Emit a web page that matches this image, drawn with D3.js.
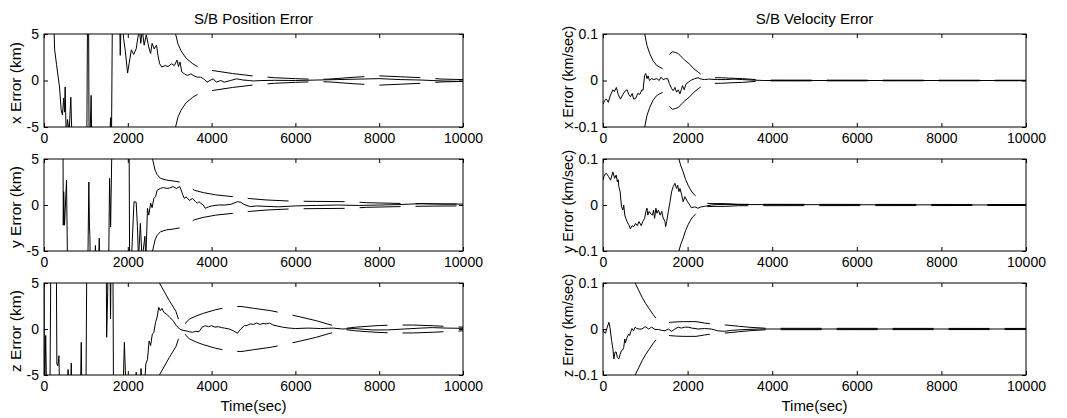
<!DOCTYPE html>
<html>
<head>
<meta charset="utf-8">
<script src="https://cdn.jsdelivr.net/npm/d3@7"></script>
<style>
  body { margin: 0; background: #fff; }
  svg text { font-family: "Liberation Sans", Arial, Helvetica, sans-serif; fill: #000; }
</style>
</head>
<body>
<svg id="chart" width="1067" height="418"></svg>
<script>
// ---- axis ticks and labels ----
const timeTicks = [0, 2000, 4000, 6000, 8000, 10000];
const posTicks = [-5, 0, 5];
const velTicks = [-0.1, 0, 0.1];
const columnTitles = ["S/B Position Error", "S/B Velocity Error"];
const posLabels = ["x Error (km)", "y Error (km)", "z Error (km)"];
const velLabels = ["x Error (km/sec)", "y Error (km/sec)", "z Error (km/sec)"];
const timeLabel = "Time(sec)";

// ---- position errors [time s, error km] ----
const xPosErr = [[0,25],[235,6],[254,3.3],[300,1.7],[370,-0.7],[410,-3.2],[440,-3.7],[470,-1.9],[490,-3.4],[505,-0.7],[530,-6],[560,-4.2],[600,-5.5],[640,-1.8],[665,-6],[700,-9],[1020,-8],[1045,12],[1060,12],[1075,-6],[1100,-6],[1125,-1.6],[1140,-7],[1560,-7],[1590,-4],[1610,-7],[1640,12],[1780,9],[1810,5.5],[1820,2.7],[1835,5.5],[1860,7],[1900,4.5],[1940,3.2],[1995,0.8],[2030,1.8],[2085,3.3],[2140,2.8],[2200,3.4],[2240,4.6],[2275,5.5],[2310,4.0],[2345,5.5],[2390,3.8],[2440,4.9],[2500,3.6],[2545,2.9],[2580,4.0],[2630,3.4],[2685,3.8],[2720,2.7],[2760,1.8],[2810,1.45],[2890,1.6],[2960,1.5],[3045,1.8],[3110,1.6],[3175,2.2],[3210,1.5],[3245,2.0],[3290,0.9],[3350,0.72],[3420,0.54],[3500,0.72],[3580,0.5],[3660,0.36],[3740,0.36],[3810,0.18],[3890,-0.18],[3960,0.0],[4040,0.18],[4110,-0.18],[4220,0.0],[4300,-0.18],[4450,0.0],[4600,0.18],[4750,0.05],[4900,0.0],[5000,-0.05],[5200,0.0],[5500,0.02],[6000,0.0],[6500,0.05],[7000,0.1],[7500,0.15],[8000,0.2],[8500,0.1],[9000,0.05],[9500,-0.05],[10000,-0.1]];
const yPosErr = [[0,15],[450,12],[460,-2.2],[470,1.45],[490,-2.2],[537,2.7],[568,-9],[1040,-9],[1070,2.5],[1085,-2.3],[1095,-3.3],[1110,-8],[1215,-6],[1227,-4.4],[1240,-7],[1305,-6],[1319,-3.6],[1330,-7],[1540,-8],[1565,2.9],[1590,-2.4],[1640,12],[2000,12],[2030,9],[2045,-9],[2086,-6],[2148,0.36],[2200,0.3],[2230,-2.35],[2255,-6],[2300,-2.0],[2340,-6],[2408,-3.4],[2430,-6],[2470,-0.36],[2500,-1.1],[2546,0.2],[2580,-0.3],[2620,0.7],[2662,0.9],[2700,1.6],[2777,1.8],[2850,1.9],[2930,1.8],[3000,1.85],[3083,2.0],[3160,1.8],[3237,2.0],[3275,1.6],[3313,1.1],[3350,0.7],[3390,0.9],[3467,0.5],[3544,0.7],[3620,0.36],[3660,0.2],[3700,0.36],[3740,0.2],[3800,0.0],[3850,-0.36],[3930,-0.2],[4000,-0.1],[4157,0.0],[4310,0.0],[4460,0.07],[4617,0.36],[4700,0.3],[4770,0.07],[4924,-0.18],[5077,-0.1],[5300,-0.15],[5600,-0.2],[6000,-0.1],[6500,-0.05],[7000,0.0],[7500,-0.05],[8000,0.0],[8500,0.05],[9000,0.15],[9500,0.1],[10000,0.1]];
const zPosErr = [[0,12],[10,-9],[40,-0.7],[70,-9],[140,-8],[170,12],[290,12],[307,-3.8],[330,-4.0],[357,-2.9],[375,-8],[560,-7],[575,-4.4],[590,-7],[640,-6],[651,-3.7],[665,-8],[870,-7],[889,-1.45],[905,-7],[1000,-8],[1028,12],[1480,12],[1495,-0.9],[1520,4],[1545,12],[1565,12],[1588,1.1],[1610,12],[1641,12],[1660,-9],[1880,-8],[1918,-1.45],[1960,-7],[2190,-6],[2201,-4.7],[2215,-6],[2300,-6],[2316,-4.3],[2340,-6],[2400,-6],[2431,-3.8],[2470,-3.3],[2508,-1.3],[2545,-1.8],[2585,-0.55],[2620,-0.4],[2662,0.7],[2700,1.3],[2738,2.35],[2775,2.0],[2815,2.25],[2860,1.8],[2930,1.6],[3000,1.27],[3083,0.9],[3160,0.36],[3237,0.0],[3320,-0.15],[3390,-0.2],[3470,-0.3],[3544,-0.36],[3620,-0.25],[3700,-0.3],[3774,0.2],[3850,0.36],[3930,0.25],[4000,0.36],[4080,0.2],[4160,0.25],[4240,0.15],[4310,0.1],[4420,0.0],[4520,-0.2],[4579,-0.36],[4620,-0.45],[4660,-0.2],[4694,0.0],[4780,0.36],[4850,0.4],[4924,0.55],[5000,0.5],[5077,0.65],[5150,0.5],[5230,0.6],[5300,0.55],[5384,0.65],[5460,0.45],[5538,0.36],[5691,0.2],[5850,0.1],[6000,0.05],[6300,0.1],[6600,0.05],[6900,0.1],[7120,0.0],[7400,0.05],[7837,-0.1],[8200,-0.1],[8600,0.0],[9000,0.1],[9266,0.15],[9600,0.1],[10000,0.07]];

// ---- position 1-sigma envelopes [time s, sigma km] ----
const xPosSigma = [[3140,5.0],[3200,3.9],[3270,3.2],[3390,2.4],[3550,1.8],[3720,1.35],[3900,1.15],[4060,1.05],[4500,0.75],[5060,0.45],[5500,0.3],[6000,0.2],[6500,0.12],[6800,0.15],[7400,0.35],[8000,0.5],[8500,0.4],[9000,0.3],[9500,0.15],[10000,0.1]];
const yPosSigma = [[2590,5.0],[2650,3.8],[2700,3.3],[2780,2.9],[2930,2.7],[3100,2.6],[3300,2.45],[3450,2.0],[3590,1.6],[3800,1.35],[4100,1.1],[4580,0.87],[4900,0.7],[5300,0.55],[5900,0.42],[6300,0.4],[7300,0.36],[7700,0.25],[8700,0.15],[9300,0.12],[10000,0.1]];
const zPosSigma = [[2755,5.0],[2990,3.1],[3150,1.9],[3232,0.75],[3300,0.1],[3400,0.75],[3470,1.08],[3650,1.45],[3800,1.7],[4100,2.1],[4420,2.4],[4700,2.45],[4780,2.4],[5000,2.25],[5400,2.0],[5772,1.66],[6090,1.34],[6500,0.9],[6800,0.5],[7082,0.15],[7150,0.05],[7440,0.2],[8000,0.38],[8400,0.43],[8800,0.43],[9300,0.35],[9742,0.25],[10000,0.2]];

// ---- velocity errors [time s, error km/s] ----
const xVelErr = [[0,-0.051],[40,-0.043],[80,-0.04],[125,-0.047],[170,-0.033],[234,-0.02],[270,-0.024],[316,-0.015],[360,-0.03],[413,-0.04],[470,-0.03],[530,-0.022],[570,-0.02],[610,-0.03],[650,-0.035],[690,-0.028],[725,-0.04],[770,-0.039],[820,-0.028],[870,-0.03],[920,-0.02],[947,-0.021],[983,0.011],[1010,0.015],[1040,0.004],[1065,0.01],[1100,0.0],[1150,0.004],[1200,0.002],[1271,0.004],[1330,0.0],[1370,0.007],[1420,0.002],[1482,0.004],[1530,0.004],[1570,-0.007],[1620,-0.017],[1660,-0.022],[1700,-0.015],[1740,-0.025],[1780,-0.02],[1817,-0.029],[1850,-0.02],[1880,-0.011],[1920,-0.02],[1960,-0.008],[2012,-0.004],[2090,0.001],[2170,0.004],[2246,0.006],[2320,0.003],[2400,0.002],[2500,0.003],[2700,0.002],[2900,0.002],[3100,0.003],[3300,0.002],[3500,0.001],[3800,0.0],[10000,0.0]];
const yVelErr = [[0,0.054],[23,0.062],[50,0.067],[78,0.069],[130,0.062],[180,0.054],[234,0.072],[275,0.058],[312,0.065],[340,0.05],[360,0.055],[374,0.04],[405,0.029],[437,-0.004],[470,-0.011],[490,0.0],[515,-0.022],[540,-0.029],[569,-0.036],[610,-0.043],[647,-0.052],[690,-0.045],[730,-0.047],[770,-0.04],[810,-0.045],[850,-0.036],[905,-0.045],[940,-0.036],[983,-0.029],[1015,-0.014],[1040,-0.007],[1060,-0.022],[1090,-0.014],[1140,-0.02],[1170,-0.022],[1195,-0.011],[1220,-0.029],[1250,-0.007],[1275,-0.018],[1310,-0.011],[1350,-0.022],[1390,-0.014],[1420,-0.028],[1466,-0.036],[1482,-0.047],[1505,-0.036],[1545,-0.014],[1585,0.007],[1622,0.029],[1660,0.04],[1700,0.047],[1740,0.036],[1765,0.043],[1794,0.029],[1820,0.036],[1860,0.022],[1895,0.007],[1935,0.018],[2000,0.007],[2051,0.0],[2090,-0.006],[2170,-0.004],[2246,-0.007],[2320,-0.004],[2400,-0.003],[2558,0.0],[2700,0.001],[3000,0.001],[10000,0.0]];
const zVelErr = [[0,0.0],[23,-0.007],[60,-0.009],[101,0.004],[140,0.0145],[170,0.0],[203,-0.025],[234,-0.043],[257,-0.065],[285,-0.05],[312,-0.05],[340,-0.062],[374,-0.065],[405,-0.055],[437,-0.047],[470,-0.045],[490,-0.04],[515,-0.022],[530,-0.03],[570,-0.018],[610,-0.011],[630,-0.014],[660,-0.005],[686,0.001],[720,-0.004],[760,0.004],[800,0.001],[850,0.0],[920,0.0],[998,0.005],[1080,0.0],[1150,0.004],[1230,-0.001],[1310,-0.001],[1390,-0.003],[1466,-0.004],[1540,0.0],[1622,-0.005],[1700,0.0],[1778,0.004],[1850,0.002],[1934,0.004],[2012,0.004],[2100,0.002],[2246,0.0],[2400,0.001],[2558,0.0],[2640,-0.002],[2714,-0.004],[2870,-0.005],[3030,-0.003],[3182,-0.002],[3400,-0.001],[3700,0.0],[10000,0.0]];

// ---- velocity 1-sigma envelopes [time s, sigma km/s] ----
const xVelSigma = [[986,0.1],[1040,0.075],[1105,0.058],[1180,0.043],[1262,0.033],[1330,0.029],[1404,0.026],[1560,0.055],[1640,0.062],[1720,0.06],[1780,0.058],[1850,0.051],[1930,0.044],[2050,0.035],[2150,0.025],[2250,0.018],[2350,0.011],[2440,0.007],[2600,0.006],[2800,0.006],[3000,0.005],[3300,0.004],[3600,0.002],[3800,0.0008],[10000,0.0005]];
const yVelSigma = [[1794,0.1],[1840,0.085],[1895,0.072],[1950,0.056],[2012,0.043],[2070,0.033],[2129,0.025],[2190,0.02],[2246,0.017],[2350,0.004],[2600,0.003],[2900,0.003],[3200,0.0015],[10000,0.001]];
const zVelSigma = [[760,0.1],[850,0.083],[930,0.068],[1010,0.055],[1085,0.045],[1180,0.032],[1280,0.02],[1420,0.012],[1589,0.0145],[1750,0.0155],[1900,0.016],[2200,0.016],[2400,0.013],[2558,0.011],[2750,0.009],[2907,0.0087],[3200,0.006],[3500,0.0035],[3875,0.0015],[10000,0.0012]];

// ---- layout ----
const svg = d3.select("#chart");
const colX = [[44, 463], [603, 1026]];
const rowY = [[34, 127], [159, 251], [283, 375]];
const labelX = [21, 573];        // baseline of the rotated y labels
const labelStart = [-3, 2];      // label start offset from the bottom of each axes box
const tickFont = 14;
const labelFont = [15.5, 14.5];
const titleFont = 15;

const panels = [
  { col: 0, row: 0, err: xPosErr, sig: xPosSigma, ticks: posTicks, label: posLabels[0] },
  { col: 0, row: 1, err: yPosErr, sig: yPosSigma, ticks: posTicks, label: posLabels[1] },
  { col: 0, row: 2, err: zPosErr, sig: zPosSigma, ticks: posTicks, label: posLabels[2] },
  { col: 1, row: 0, err: xVelErr, sig: xVelSigma, ticks: velTicks, label: velLabels[0] },
  { col: 1, row: 1, err: yVelErr, sig: yVelSigma, ticks: velTicks, label: velLabels[1] },
  { col: 1, row: 2, err: zVelErr, sig: zVelSigma, ticks: velTicks, label: velLabels[2] }
];

const fmt = d => String(d);

function styleAxis(sel) {
  sel.select(".domain").remove();
  sel.selectAll("line").attr("stroke", "#000").attr("stroke-width", 1);
  sel.selectAll("text")
    .attr("font-family", "Liberation Sans, Arial, Helvetica, sans-serif")
    .attr("font-size", tickFont)
    .attr("fill", "#000");
}

panels.forEach((p, i) => {
  const [x0, x1] = colX[p.col];
  const [y0, y1] = rowY[p.row];
  const x = d3.scaleLinear().domain([timeTicks[0], timeTicks[timeTicks.length - 1]]).range([x0, x1]);
  const y = d3.scaleLinear().domain([p.ticks[0], p.ticks[p.ticks.length - 1]]).range([y1, y0]);

  const g = svg.append("g");

  svg.append("clipPath").attr("id", "clip" + i)
    .append("rect").attr("x", x0).attr("y", y0).attr("width", x1 - x0).attr("height", y1 - y0);

  const plot = g.append("g").attr("clip-path", `url(#clip${i})`);
  const line = d3.line().x(d => x(d[0])).y(d => y(d[1]));

  // +/- one sigma envelope, dashed
  [1, -1].forEach(sign => {
    plot.append("path")
      .datum(p.sig.map(d => [d[0], sign * d[1]]))
      .attr("d", line)
      .attr("fill", "none")
      .attr("stroke", "#000")
      .attr("stroke-width", 1)
      .attr("stroke-dasharray", "41,15");
  });

  // estimation error, solid
  plot.append("path")
    .datum(p.err)
    .attr("d", line)
    .attr("fill", "none")
    .attr("stroke", "#000")
    .attr("stroke-width", 1)
    .attr("stroke-linejoin", "round");

  // axes with inward ticks on all four sides
  g.append("g").attr("transform", `translate(0,${y1})`)
    .call(d3.axisBottom(x).tickValues(timeTicks).tickFormat(fmt).tickSizeInner(-4).tickSizeOuter(0).tickPadding(6))
    .call(styleAxis);
  g.append("g").attr("transform", `translate(0,${y0})`)
    .call(d3.axisTop(x).tickValues(timeTicks).tickFormat("").tickSizeInner(-4).tickSizeOuter(0))
    .call(styleAxis);
  g.append("g").attr("transform", `translate(${x0},0)`)
    .call(d3.axisLeft(y).tickValues(p.ticks).tickFormat(fmt).tickSizeInner(-4).tickSizeOuter(0).tickPadding(5))
    .call(styleAxis);
  g.append("g").attr("transform", `translate(${x1},0)`)
    .call(d3.axisRight(y).tickValues(p.ticks).tickFormat("").tickSizeInner(-4).tickSizeOuter(0))
    .call(styleAxis);

  // frame
  g.append("rect")
    .attr("x", x0).attr("y", y0).attr("width", x1 - x0).attr("height", y1 - y0)
    .attr("fill", "none").attr("stroke", "#000").attr("stroke-width", 1);

  // y label, running upward from just beside the bottom of the box
  g.append("text")
    .attr("transform", `translate(${labelX[p.col]},${y1 + labelStart[p.col]}) rotate(-90)`)
    .attr("text-anchor", "start")
    .attr("font-size", labelFont[p.col])
    .text(p.label);

  if (p.row === 0) {
    g.append("text")
      .attr("x", (x0 + x1) / 2).attr("y", 24)
      .attr("text-anchor", "middle")
      .attr("font-size", titleFont)
      .text(columnTitles[p.col]);
  }
  if (p.row === 2) {
    g.append("text")
      .attr("x", (x0 + x1) / 2).attr("y", 411)
      .attr("text-anchor", "middle")
      .attr("font-size", titleFont)
      .text(timeLabel);
  }
});
</script>
</body>
</html>
